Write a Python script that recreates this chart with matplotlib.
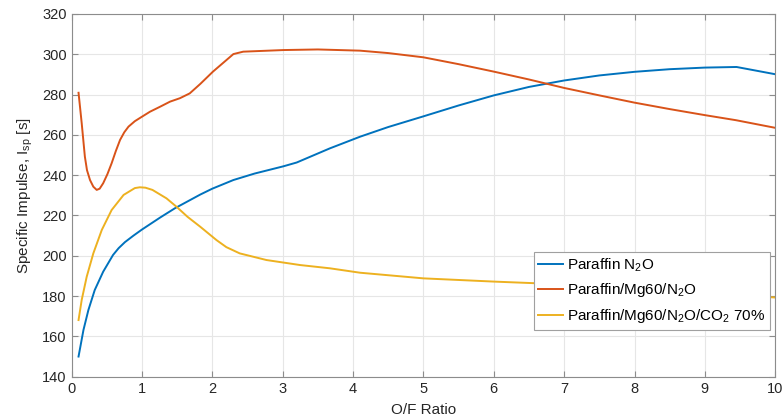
import matplotlib
matplotlib.use("Agg")
import matplotlib.pyplot as plt

plt.rcParams['font.family'] = ['Liberation Sans', 'DejaVu Sans']
plt.rcParams['mathtext.fontset'] = 'custom'
plt.rcParams['mathtext.rm'] = 'Liberation Sans'
plt.rcParams['mathtext.it'] = 'Liberation Sans'

# Paraffin N2O
of_blue = [0.1, 0.17, 0.24, 0.33, 0.45, 0.59, 0.67, 0.76, 0.88, 1.0, 1.26, 1.47,
           1.83, 2.0, 2.3, 2.6, 3.01, 3.2, 3.67, 4.1, 4.5, 5.0, 5.5, 6.0, 6.5,
           7.0, 7.5, 8.0, 8.5, 9.0, 9.45, 10.0]
isp_blue = [150.0, 163.2, 173.1, 183.0, 192.1, 200.4, 203.8, 206.8, 210.0, 213.0, 219.0, 223.6,
            230.4, 233.3, 237.6, 240.8, 244.4, 246.3, 253.3, 259.1, 263.9, 269.2, 274.6, 279.6, 283.8,
            287.0, 289.5, 291.3, 292.6, 293.4, 293.7, 290.1]

# Paraffin/Mg60/N2O
of_orange = [0.1, 0.145, 0.19, 0.22, 0.263, 0.31, 0.358, 0.4, 0.45, 0.51, 0.57, 0.63,
             0.69, 0.75, 0.81, 0.9, 1.0, 1.115, 1.26, 1.4, 1.54, 1.68, 1.83, 2.01,
             2.3, 2.44, 3.01, 3.5, 4.1, 4.5, 5.0, 5.5, 6.0, 6.5, 7.0, 7.5,
             8.0, 8.5, 9.0, 9.44, 10.0]
isp_orange = [280.9, 265.8, 249.2, 242.5, 237.6, 234.3, 232.7, 233.3, 236.0, 240.5, 245.9, 252.0,
              257.5, 261.3, 264.1, 266.8, 269.0, 271.5, 274.0, 276.5, 278.2, 280.6, 285.3, 291.4,
              300.1, 301.3, 302.1, 302.4, 301.8, 300.6, 298.5, 295.1, 291.4, 287.5, 283.3, 279.6,
              276.0, 272.8, 269.8, 267.3, 263.5]

# Paraffin/Mg60/N2O/CO2 70%
of_yellow = [0.1, 0.145, 0.216, 0.31, 0.43, 0.57, 0.74, 0.9, 0.97, 1.05, 1.15, 1.35,
             1.49, 1.65, 1.83, 2.06, 2.2, 2.39, 2.77, 3.25, 3.67, 4.1, 5.0, 6.0,
             6.58, 8.0, 10.0]
isp_yellow = [168.1, 178.1, 189.6, 201.2, 212.8, 222.7, 230.2, 233.6, 234.0, 233.8, 232.7, 228.5,
              224.4, 219.3, 214.4, 207.8, 204.3, 201.2, 197.9, 195.4, 193.8, 191.6, 188.8, 187.2,
              186.4, 183.5, 179.3]

labels = ["Paraffin N$_2$O", "Paraffin/Mg60/N$_2$O", "Paraffin/Mg60/N$_2$O/CO$_2$ 70%"]
colors = ["#0072BD", "#D95319", "#EDB120"]

fig = plt.figure(figsize=(7.84, 4.2), dpi=100)
ax = fig.add_axes([0.0912, 0.1031, 0.8977, 0.8636])

ax.plot(of_blue, isp_blue, color=colors[0], lw=1.4, label=labels[0])
ax.plot(of_orange, isp_orange, color=colors[1], lw=1.4, label=labels[1])
ax.plot(of_yellow, isp_yellow, color=colors[2], lw=1.4, label=labels[2])

ax.set_xlim(0, 10)
ax.set_ylim(140, 320)
ax.set_xticks(range(0, 11))
ax.set_yticks(range(140, 321, 20))
ax.grid(True, color="#e6e6e6", lw=0.8)
ax.set_axisbelow(True)
for s in ax.spines.values():
    s.set_color("#8c8c8c")
    s.set_linewidth(0.8)
ax.tick_params(direction='in', top=True, right=True, length=4, width=0.8,
               color="#8c8c8c", labelcolor="#262626", labelsize=10.5)

ax.set_xlabel("O/F Ratio", fontsize=11, color="#262626", labelpad=5)
ax.set_ylabel(r"Specific Impulse, I$_{\rm sp}$ [s]", fontsize=11, color="#262626", labelpad=5)

leg = ax.legend(loc='lower right', bbox_to_anchor=(0.993, 0.13), borderaxespad=0,
                fontsize=11, fancybox=False, framealpha=1, edgecolor="#a0a0a0",
                handlelength=1.6, handletextpad=0.3, borderpad=0.3, labelspacing=0.5)
leg.get_frame().set_linewidth(0.8)

fig.savefig("out.png", dpi=100)
